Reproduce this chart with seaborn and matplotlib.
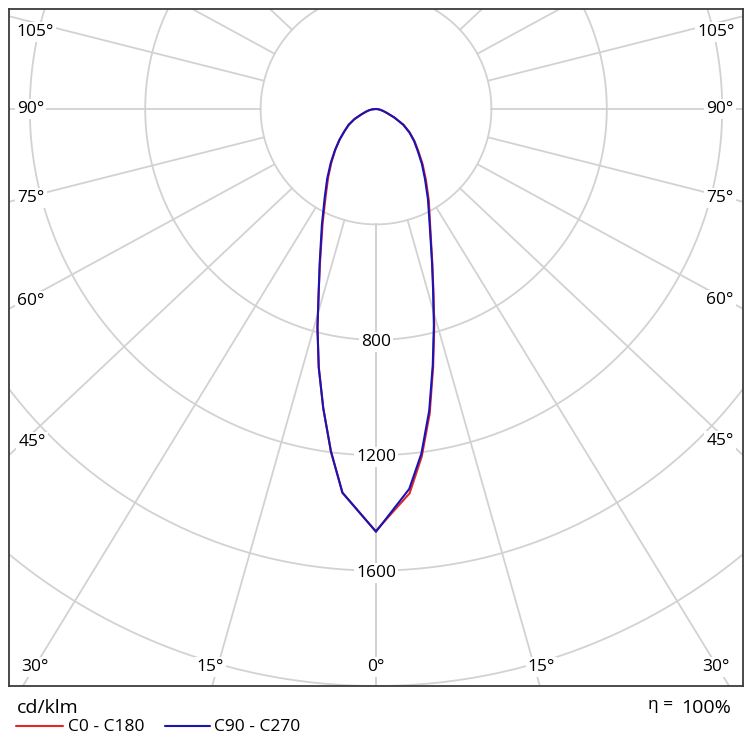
import numpy as np
import pandas as pd
import matplotlib
matplotlib.use("Agg")
import matplotlib.pyplot as plt
from matplotlib.lines import Line2D
import seaborn as sns

# ---------------- data (cd/klm) ----------------
gamma = [0, 5, 7.5, 10, 12.5, 15, 17.5, 20, 25, 30, 35, 40, 45, 50, 55, 60, 65, 70, 75, 80, 85, 90]
c0   = [1462, 1337, 1215, 1072, 915, 780, 662, 571, 444, 366, 302, 252, 208, 175, 143, 111, 72, 41, 25, 14, 6, 0]
c180 = [1465, 1335, 1197, 1053, 917, 784, 660, 568, 438, 349, 289, 240, 199, 164, 133, 109, 82, 53, 36, 24, 12, 0]
c90  = [1465, 1322, 1205, 1062, 909, 775, 658, 568, 440, 360, 296, 247, 204, 172, 141, 109, 70, 40, 25, 14, 6, 0]
c270 = [1465, 1335, 1197, 1053, 917, 784, 660, 571, 444, 356, 295, 244, 201, 165, 133, 109, 82, 53, 36, 24, 12, 0]
series_names = ["C0 - C180", "C90 - C270"]
series_colors = ["#e3262b", "#1a14b4"]
ring_values = [400, 800, 1200, 1600, 2000]
ring_labels = ["800", "1200", "1600"]
angle_ticks = [0, 15, 30, 45, 60, 75, 90, 105, 120, 135, 150, 165, 180]
angle_labels_side = ["105°", "90°", "75°", "60°", "45°"]
angle_labels_bottom = ["30°", "15°", "0°", "15°", "30°"]
eta_text = "η ="
eta_value = "100%"
unit_text = "cd/klm"

# ---------------- build table ----------------
rows = []
g = np.radians(np.array(gamma, dtype=float))
for name, right, left in [(series_names[0], c0, c180), (series_names[1], c90, c270)]:
    r_r = np.array(right, float)
    r_l = np.array(left, float)
    xs = np.concatenate([-r_l[::-1] * np.sin(g[::-1]), r_r * np.sin(g)])
    ys = np.concatenate([-r_l[::-1] * np.cos(g[::-1]), -r_r * np.cos(g)])
    for i, (x, y) in enumerate(zip(xs, ys)):
        rows.append({"plane": name, "x": x, "y": y, "order": i})
df = pd.DataFrame(rows)

# ---------------- figure ----------------
sns.set_style("white")
plt.rcParams["font.family"] = ["Open Sans", "DejaVu Sans"]

W, H = 754, 744
fig = plt.figure(figsize=(W / 100, H / 100), dpi=100)
fx0, fx1, fy0, fy1 = 9, 743, 9, 686     # frame in pixels
cx, cy = 376, 109                        # pole in pixels
s = (fy1 - cy) / 2000.0                  # px per cd
ax = fig.add_axes([fx0 / W, 1 - fy1 / H, (fx1 - fx0) / W, (fy1 - fy0) / H])
ax.set_xlim((fx0 - cx) / s, (fx1 - cx) / s)
ax.set_ylim(-(fy1 - cy) / s, (cy - fy0) / s)


def p2d(px, py):
    return (px - cx) / s, -(py - cy) / s


grid_c = "#d2d2d2"
grid_lw = 1.3
t = np.linspace(0, 2 * np.pi, 721)
for rv in ring_values:
    ax.plot(rv * np.cos(t), rv * np.sin(t), color=grid_c, lw=grid_lw, zorder=1)

kx = 1.06
for a in angle_ticks:
    for sign in (-1, 1):
        ar = np.radians(a)
        dx, dy = sign * kx * np.sin(ar), -np.cos(ar)
        n = np.hypot(dx, dy)
        dx, dy = dx / n, dy / n
        r0 = ring_values[0]
        ax.plot([r0 * dx, 4000 * dx], [r0 * dy, 4000 * dy], color=grid_c, lw=grid_lw, zorder=1)

box = dict(facecolor="white", edgecolor="none", pad=1.5)
fs = 12.5
tc = "#000000"
for lab in ring_labels:
    v = float(lab)
    ax.text(0, -v - 2 / s, lab, ha="center", va="center", fontsize=fs, color=tc,
            bbox=box, zorder=3)

side_pos_left = [(35.5, 31.7), (30.5, 109), (31, 198), (31, 300.7), (32, 441.7)]
side_pos_right = [(716, 31.7), (720, 109), (720, 198), (720, 300), (720, 440.7)]
bottom_pos = [(35, 666.7), (210, 666.7), (376, 667), (541.5, 666.7), (716, 666.7)]
for lab, (px, py) in zip(angle_labels_side, side_pos_left):
    ax.text(*p2d(px, py), lab, ha="center", va="center", fontsize=fs, color=tc, bbox=box, zorder=3)
for lab, (px, py) in zip(angle_labels_side, side_pos_right):
    ax.text(*p2d(px, py), lab, ha="center", va="center", fontsize=fs, color=tc, bbox=box, zorder=3)
for lab, (px, py) in zip(angle_labels_bottom, bottom_pos):
    ax.text(*p2d(px, py), lab, ha="center", va="center", fontsize=fs, color=tc, bbox=box, zorder=3)

sns.lineplot(data=df, x="x", y="y", hue="plane", hue_order=series_names,
             palette=dict(zip(series_names, series_colors)), sort=False, estimator=None,
             units="plane", lw=1.5, legend=False, ax=ax, zorder=4)

ax.set_xlabel("")
ax.set_ylabel("")
ax.set_xticks([])
ax.set_yticks([])
for sp in ax.spines.values():
    sp.set_color("#3c3c3c")
    sp.set_linewidth(1.3)
    sp.set_zorder(5)

# ---------------- footer ----------------
def ft(px, py, txt, **kw):
    fig.text(px / W, 1 - py / H, txt, **kw)

ft(17, 708, unit_text, ha="left", va="center", fontsize=14, color=tc)
ft(673, 705, eta_text, ha="right", va="center", fontsize=12.5, color=tc)
ft(731, 708, eta_value, ha="right", va="center", fontsize=14, color=tc)

for (x0, x1, tx), col, name in zip([(16, 63, 68), (165, 210, 214)], series_colors, series_names):
    fig.add_artist(Line2D([x0 / W, x1 / W], [1 - 726 / H, 1 - 726 / H], color=col, lw=1.5))
    ft(tx, 727, name, ha="left", va="center", fontsize=12.5, color=tc)

fig.savefig("out.png", dpi=100, facecolor="white")
